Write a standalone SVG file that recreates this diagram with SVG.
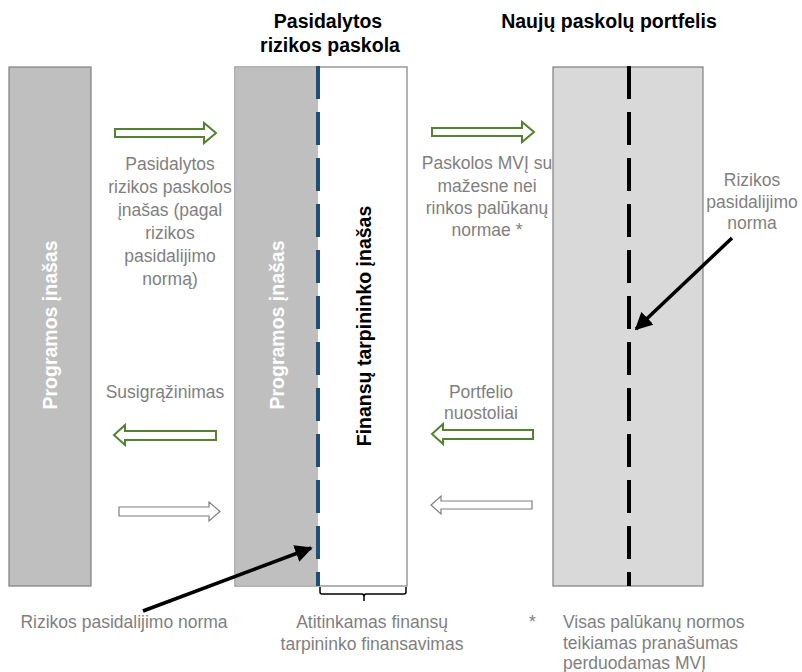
<svg xmlns="http://www.w3.org/2000/svg" width="802" height="672" viewBox="0 0 802 672">
<defs>
<style>
.box{stroke:#7f7f7f;stroke-width:1.2}
.title{font-family:"Liberation Sans",Arial,sans-serif;font-size:19.5px;font-weight:bold;fill:#000;text-anchor:middle}
.vt{font-family:"Liberation Sans",Arial,sans-serif;font-size:19.5px;font-weight:bold;text-anchor:middle}
.lbl{font-family:"Liberation Sans",Arial,sans-serif;font-size:17.5px;fill:#7f7f7f;text-anchor:middle}
.lbll{font-family:"Liberation Sans",Arial,sans-serif;font-size:17.5px;fill:#7f7f7f}
.garrow{fill:#fff;stroke:#548235;stroke-width:2;stroke-linejoin:miter}
.warrow{fill:#fff;stroke:#7f7f7f;stroke-width:1.2}
.ptr{stroke:#000;stroke-width:3.5;fill:none}
</style>
<marker id="ah" viewBox="0 0 10 10" refX="9" refY="5" markerWidth="5" markerHeight="5" orient="auto" markerUnits="strokeWidth">
<path d="M0,0 L10,5 L0,10 z" fill="#000"/>
</marker>
</defs>
<rect width="802" height="672" fill="#fff"/>

<g id="titles">
<text class="title" x="328" y="28">Pasidalytos</text>
<text class="title" x="330" y="52">rizikos paskola</text>
<text class="title" x="609" y="28">Naujų paskolų portfelis</text>
</g>

<g id="program-box">
<rect class="box" x="9" y="67" width="82" height="519" fill="#bfbfbf"/>
<text class="vt" fill="#fff" transform="translate(57,325) rotate(-90)">Programos įnašas</text>
</g>

<g id="shared-loan-box">
<rect class="box" x="235" y="67" width="172" height="519" fill="#fff"/>
<rect x="235.6" y="67.6" width="82.4" height="517.8" fill="#bfbfbf"/>
<line x1="318" y1="66" x2="318" y2="586" stroke="#1f4e79" stroke-width="4" stroke-dasharray="33 13"/>
<text class="vt" fill="#fff" transform="translate(284,325) rotate(-90)">Programos įnašas</text>
<text class="vt" fill="#000" transform="translate(371,326) rotate(-90)">Finansų tarpininko įnašas</text>
</g>

<g id="portfolio-box">
<rect class="box" x="553" y="67" width="150" height="519" fill="#d9d9d9"/>
<line x1="629" y1="66" x2="629" y2="586" stroke="#000" stroke-width="4" stroke-dasharray="33 13"/>
</g>

<g id="connectors">
<polygon class="garrow" points="115,129 204,129 204,123 216,133 204,143 204,137 115,137"/>
<polygon class="garrow" points="432,128 522,128 522,122 534,132 522,142 522,136 432,136"/>
<polygon class="garrow" points="216,431 125,431 125,425 114,435 125,445 125,440 216,440"/>
<polygon class="garrow" points="533,430 443,430 443,424 432,434 443,444 443,439 533,439"/>
<polygon class="warrow" points="119,507 209,507 209,502 220,511.5 209,521 209,516 119,516"/>
<polygon class="warrow" points="532,501 441,501 441,496 431,505 441,514 441,509 532,509"/>
<line class="ptr" x1="732" y1="238" x2="636" y2="329" marker-end="url(#ah)"/>
<line class="ptr" x1="143" y1="611" x2="311" y2="548" marker-end="url(#ah)"/>
<path d="M320,587 V592 Q320,594 322,594 H362 Q364,594 364,597 V601 M364,597 Q364,594 366,594 H404 Q406,594 406,592 V587" fill="none" stroke="#000" stroke-width="1.5"/>
</g>

<g id="labels">
<text class="lbl" x="170" y="170">Pasidalytos</text>
<text class="lbl" x="170" y="193">rizikos paskolos</text>
<text class="lbl" x="170" y="216">įnašas (pagal</text>
<text class="lbl" x="170" y="239">rizikos</text>
<text class="lbl" x="170" y="262">pasidalijimo</text>
<text class="lbl" x="170" y="285">normą)</text>

<text class="lbl" x="487" y="169">Paskolos MVĮ su</text>
<text class="lbl" x="487" y="192">mažesne nei</text>
<text class="lbl" x="487" y="214">rinkos palūkanų</text>
<text class="lbl" x="487" y="236">normae *</text>

<text class="lbl" x="752" y="186">Rizikos</text>
<text class="lbl" x="752" y="208">pasidalijimo</text>
<text class="lbl" x="752" y="229">norma</text>

<text class="lbl" x="165" y="398">Susigrąžinimas</text>
<text class="lbl" x="481" y="398">Portfelio</text>
<text class="lbl" x="481" y="419">nuostoliai</text>

<text class="lbl" x="124" y="628">Rizikos pasidalijimo norma</text>
<text class="lbl" x="372" y="628">Atitinkamas finansų</text>
<text class="lbl" x="372" y="650">tarpininko finansavimas</text>
<text class="lbll" x="529" y="628">*</text>
<text class="lbll" x="563" y="628">Visas palūkanų normos</text>
<text class="lbll" x="563" y="649">teikiamas pranašumas</text>
<text class="lbll" x="563" y="669">perduodamas MVĮ</text>
</g>
</svg>
